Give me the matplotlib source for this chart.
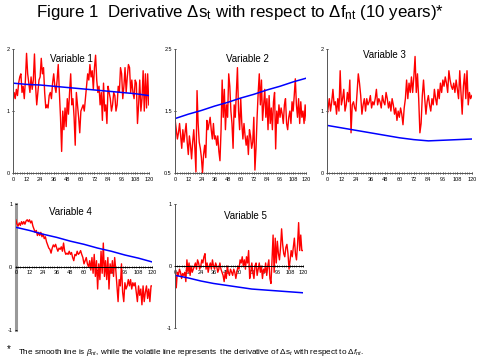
import numpy as np
import matplotlib
matplotlib.use("Agg")
import matplotlib.pyplot as plt

plt.rcParams['font.family'] = ['Liberation Sans', 'DejaVu Sans']
plt.rcParams['mathtext.fontset'] = 'custom'
plt.rcParams['mathtext.rm'] = 'Liberation Sans'
plt.rcParams['mathtext.it'] = 'Liberation Sans:italic'

months = np.arange(121)
x_ticks = list(range(0, 121, 12))

# volatile line: derivative of delta s_t w.r.t. delta f_nt
var1_red = [
    1.15, 1.3, 1.2, 1.35, 1.25, 1.45, 1.55, 1.6, 1.3, 1.4, 1.2, 1.5,
    1.93, 1.6, 1.45, 1.3, 1.55, 1.35, 1.5, 1.92, 1.4, 1.1, 1.3, 1.5,
    1.55, 1.85, 1.6, 1.7, 1.3, 1.05, 1.1, 1.05, 1.25, 1.3, 1.2, 1.45,
    1.6, 1.4, 1.3, 1.5, 1.75, 1.3, 0.9, 0.35, 1.0, 0.7, 1.05, 0.75,
    1.2, 0.95, 1.3, 1.6, 1.1, 1.2, 0.9, 0.45, 1.3, 1.1, 0.9, 0.65,
    1.0, 1.05, 1.1, 1.0, 1.2, 1.4, 1.6, 1.5, 1.75, 1.55, 1.65, 1.35,
    1.7, 1.9, 1.5, 1.3, 1.4, 1.1, 1.3, 0.85, 1.45, 1.0, 1.1, 0.8,
    1.4, 1.3, 1.2, 1.0, 1.1, 1.3, 1.25, 1.0, 1.1, 1.4, 1.3, 1.7,
    1.6, 1.2, 1.4, 1.7, 1.3, 1.55, 1.75, 1.7, 1.3, 1.5, 1.3, 1.2,
    1.5, 1.45, 0.8, 1.1, 1.5, 1.0, 1.2, 1.65, 1.0, 1.6, 1.05, 1.6,
    1.1]
var2_red = [
    1.35, 1.2, 1.05, 1.15, 1.3, 1.1, 0.9, 1.2, 1.0, 1.15, 1.3, 1.0,
    0.8, 1.1, 0.95, 0.73, 1.0, 1.2, 0.9, 0.52, 1.83, 1.3, 1.0, 0.9,
    0.75, 0.5, 0.8, 0.95, 0.75, 1.35, 1.2, 1.3, 1.4, 1.2, 1.05, 1.3,
    1.05, 1.1, 0.95, 1.1, 0.85, 0.7, 1.2, 2.0, 1.4, 1.85, 1.2, 1.6,
    1.4, 2.1, 1.9, 1.5, 1.3, 0.9, 1.6, 1.4, 1.8, 2.2, 1.5, 1.2,
    1.7, 1.3, 1.05, 1.3, 1.1, 0.95, 1.1, 0.8, 1.2, 1.1, 0.9, 1.0,
    1.4, 0.55, 0.9, 1.4, 1.8, 2.1, 1.6, 2.0, 1.35, 1.6, 1.85, 1.4,
    1.7, 1.2, 1.75, 1.3, 1.55, 1.2, 1.65, 1.8, 0.89, 1.5, 1.3, 1.6,
    1.4, 1.55, 1.45, 1.3, 1.6, 1.7, 1.3, 1.2, 1.4, 1.5, 1.3, 1.65,
    1.5, 1.75, 2.02, 1.6, 1.4, 1.7, 1.3, 1.65, 1.4, 1.5, 1.3, 1.6,
    1.35]
var3_red = [
    0.9, 1.05, 1.2, 1.0, 1.15, 1.35, 1.1, 1.15, 0.95, 1.2, 1.0, 1.65,
    1.1, 1.2, 1.35, 1.0, 1.1, 1.3, 1.15, 1.5, 0.65, 1.1, 1.15, 1.05,
    1.0, 1.3, 1.6, 1.45, 1.25, 0.95, 1.1, 1.2, 1.0, 1.2, 1.1, 1.15,
    1.25, 1.05, 1.15, 1.1, 1.2, 1.35, 1.1, 1.2, 1.15, 1.05, 1.25, 1.15,
    1.1, 1.3, 1.2, 1.05, 1.15, 1.0, 1.2, 1.1, 0.95, 1.05, 0.85, 1.0,
    0.9, 1.05, 0.95, 0.78, 1.05, 1.2, 1.5, 1.2, 1.45, 1.3, 1.55, 1.3,
    1.55, 1.88, 1.3, 1.6, 1.2, 0.65, 0.8, 1.25, 1.5, 1.2, 0.95, 1.15,
    1.25, 1.1, 1.0, 1.2, 1.1, 1.35, 1.2, 1.1, 1.35, 1.2, 1.45, 1.3,
    1.5, 1.4, 1.55, 1.45, 1.3, 1.65, 1.5, 1.4, 1.35, 1.45, 1.3, 1.5,
    1.35, 1.2, 1.65, 1.3, 0.95, 1.4, 1.6, 1.2, 1.65, 1.1, 1.3, 1.2,
    1.25]
var4_red = [
    0.75, 0.68, 0.65, 0.7, 0.66, 0.72, 0.68, 0.72, 0.68, 0.73, 0.75, 0.72,
    0.75, 0.7, 0.73, 0.65, 0.6, 0.55, 0.58, 0.5, 0.55, 0.5, 0.55, 0.48,
    0.52, 0.45, 0.48, 0.4, 0.35, 0.3, 0.28, 0.22, 0.3, 0.35, 0.32, 0.36,
    0.3, 0.25, 0.3, 0.28, 0.32, 0.25, 0.38, 0.25, 0.2, 0.22, 0.2, 0.25,
    0.2, 0.23, 0.15, 0.1, 0.2, 0.18, 0.25, 0.2, 0.22, 0.26, 0.2, 0.15,
    0.05, 0.1, 0.15, 0.05, 0.0, 0.1, -0.05, 0.15, -0.1, 0.2, -0.15, 0.1,
    -0.35, 0.05, -0.2, 0.25, -0.1, 0.38, -0.15, 0.1, -0.2, 0.15, -0.35, 0.05,
    -0.1, 0.1, -0.15, 0.15, -0.05, -0.3, -0.55, -0.2, -0.3, 0.05, -0.4, -0.55,
    -0.25, -0.35, -0.3, -0.2, -0.3, -0.2, -0.35, -0.25, -0.3, -0.25, -0.4, -0.55,
    -0.3, -0.45, -0.35, -0.6, -0.3, -0.55, -0.4, -0.3, -0.5, -0.35, -0.55, -0.3,
    -0.3]
var5_red = [
    -0.1, -0.35, -0.1, -0.15, -0.05, -0.1, -0.2, -0.12, -0.15, -0.1, -0.25, 0.1,
    -0.1, 0.05, -0.15, 0.0, -0.1, -0.05, 0.0, 0.05, -0.05, 0.1, 0.05, -0.05,
    0.0, 0.1, 0.05, 0.15, 0.2, -0.05, 0.05, -0.1, 0.0, 0.05, -0.05, 0.1,
    0.0, -0.05, 0.05, 0.0, -0.1, -0.05, 0.05, -0.05, -0.1, -0.15, -0.25, -0.1,
    -0.2, 0.0, -0.1, -0.15, -0.05, -0.1, -0.15, -0.05, -0.1, -0.2, -0.1, 0.0,
    -0.05, 0.1, 0.05, 0.15, 0.0, 0.1, -0.05, 0.15, 0.05, 0.25, -0.2, -0.1,
    0.05, -0.1, -0.2, 0.0, 0.05, -0.15, -0.05, 0.05, -0.1, 0.0, -0.2, -0.05,
    -0.1, 0.05, -0.15, 0.0, 0.1, -0.2, -0.28, 0.1, 0.5, -0.1, 0.45, 0.05,
    0.4, 0.2, 0.1, 0.3, 0.6, 0.35, 0.2, 0.15, 0.3, 0.35, 0.2, -0.05,
    0.1, 0.25, 0.15, 0.3, 0.45, 0.2, 0.1, 0.35, 0.7, 0.25, 0.5, 0.25,
    0.25]

# smooth line: beta_nt, read every 12 months
beta_months = x_ticks
var1_beta = [1.45, 1.43, 1.42, 1.40, 1.38, 1.36, 1.34, 1.32, 1.30, 1.28, 1.25]
var2_beta = [1.38, 1.45, 1.51, 1.58, 1.64, 1.71, 1.77, 1.84, 1.90, 1.97, 2.03]
var3_beta = [0.77, 0.73, 0.69, 0.65, 0.61, 0.57, 0.54, 0.52, 0.53, 0.54, 0.55]
var4_beta = [0.63, 0.58, 0.52, 0.47, 0.41, 0.36, 0.30, 0.25, 0.19, 0.14, 0.08]
var5_beta = [-0.15, -0.19, -0.24, -0.28, -0.31, -0.34, -0.37, -0.385, -0.40, -0.415, -0.43]

panels = [
    ("Variable 1", var1_red, var1_beta, (0, 2), [0, 1, 2], ["0", "1", "2"]),
    ("Variable 2", var2_red, var2_beta, (0.5, 2.5), [0.5, 1.5, 2.5], ["0.5", "1.5", "2.5"]),
    ("Variable 3", var3_red, var3_beta, (0, 2), [0, 1, 2], ["0", "1", "2"]),
    ("Variable 4", var4_red, var4_beta, (-1, 1), [-1, 0, 1], ["-1", "0", "1"]),
    ("Variable 5", var5_red, var5_beta, (-1, 1), [-1, 0, 1], ["-1", "0", "1"]),
]

# axes rectangles in figure fractions
rects = [
    [0.027, 0.523, 0.283, 0.342],
    [0.365, 0.523, 0.273, 0.342],
    [0.681, 0.523, 0.302, 0.342],
    [0.033, 0.091, 0.284, 0.347],
    [0.365, 0.096, 0.266, 0.342],
]
label_pos = [(0.43, 0.92), (0.55, 0.92), (0.4, 0.95), (0.4, 0.94), (0.55, 0.9)]

fig = plt.figure(figsize=(4.8, 3.63), dpi=100)

for i, (name, red, beta, ylim, yt, ytl) in enumerate(panels):
    ax = fig.add_axes(rects[i])
    ax.plot(months, red, color='#ff0000', lw=1.0)
    ax.plot(beta_months, beta, color='#0000ff', lw=1.1)
    ax.set_xlim(0, 120)
    ax.set_ylim(*ylim)
    ax.set_xticks(x_ticks)
    ax.set_xticks(range(0, 121, 2), minor=True)
    ax.set_yticks(yt)
    ax.set_yticklabels(ytl)
    for s in ['top', 'right']:
        ax.spines[s].set_visible(False)
    for s in ['left', 'bottom']:
        ax.spines[s].set_color('#555555')
        ax.spines[s].set_linewidth(0.7)
    if ylim[0] < 0:
        ax.spines['bottom'].set_position(('data', 0))
        ax.spines['bottom'].set_color('black')
    if i == 3:
        ax.spines['left'].set_color('#999999')
        ax.spines['left'].set_linewidth(2.2)
        ax.spines['left'].set_zorder(0.5)
    ax.tick_params(axis='both', which='major', labelsize=4, length=2,
                   width=0.6, pad=1.5, direction='inout', colors='black')
    ax.tick_params(axis='x', which='minor', length=1, width=0.4, direction='inout')
    ax.text(label_pos[i][0], label_pos[i][1], name, transform=ax.transAxes,
            ha='center', va='center', fontsize=7)

fig.text(0.5, 0.965,
         r'Figure 1  Derivative $\Delta$s$_\mathrm{t}$ with respect to $\Delta$f$_\mathrm{nt}$ (10 years)*',
         ha='center', va='center', fontsize=12.2)
fig.text(0.015, 0.037, '*', ha='left', va='center', fontsize=7)
fig.text(0.037, 0.029,
         r'The smooth line is $\beta_{nt}$, while the volatile line represents  the derivative of '
         r'$\mathit{\Delta}$s$_t$ with respect to $\mathit{\Delta f}_{nt}$.',
         ha='left', va='center', fontsize=5.85)

fig.savefig("out.png", dpi=100)
